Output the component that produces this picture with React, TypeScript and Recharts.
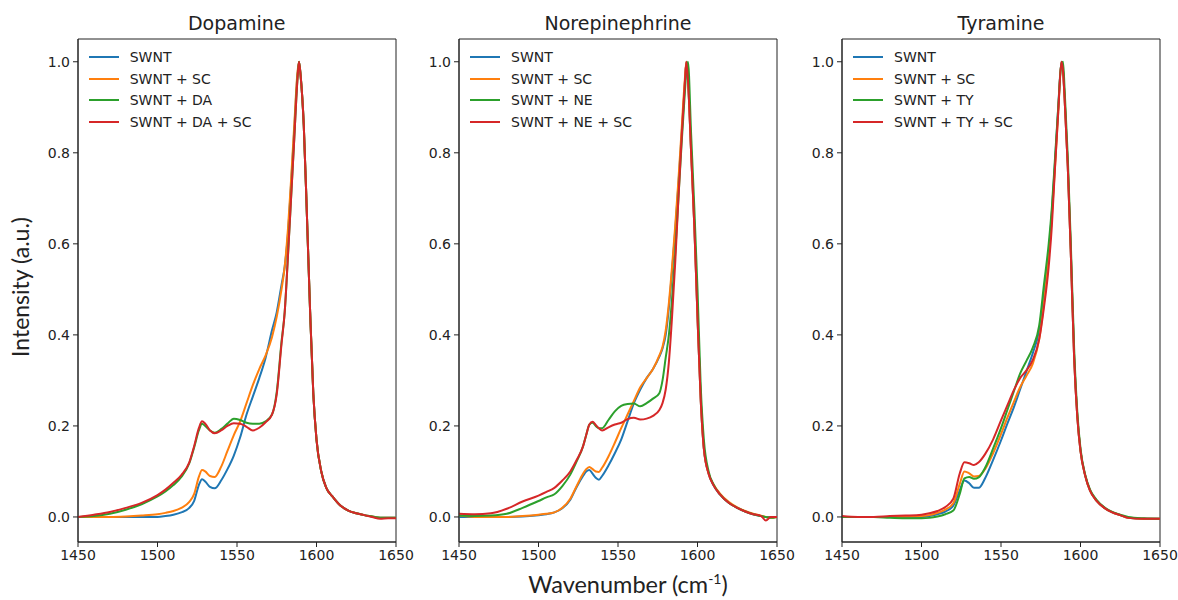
import { LineChart, Line, XAxis, YAxis, ReferenceArea, Legend } from "recharts";

const COLORS = ["#1f77b4", "#ff7f0e", "#2ca02c", "#d62728"];
const xTicks = [1450, 1500, 1550, 1600, 1650];
const yTicks = [0, 0.2, 0.4, 0.6, 0.8, 1.0];

// Dopamine
const wnDA = [1450, 1460, 1470, 1480, 1490, 1500, 1505, 1510, 1515, 1520, 1523, 1526, 1528, 1530, 1533, 1536, 1540, 1544, 1548, 1552, 1556, 1560, 1564, 1568, 1572, 1575, 1578, 1580, 1582, 1584, 1586, 1588, 1589, 1590, 1592, 1594, 1596, 1598, 1600, 1603, 1606, 1610, 1615, 1620, 1625, 1630, 1635, 1640, 1645, 1650];
const daSwnt = [0, 0, 0, 0, 0, 0, 0.002, 0.005, 0.01, 0.02, 0.035, 0.07, 0.083, 0.078, 0.066, 0.063, 0.08, 0.105, 0.135, 0.175, 0.225, 0.265, 0.305, 0.35, 0.41, 0.45, 0.51, 0.55, 0.62, 0.73, 0.85, 0.97, 1.0, 0.97, 0.86, 0.66, 0.45, 0.27, 0.17, 0.1, 0.065, 0.045, 0.025, 0.014, 0.008, 0.004, 0.001, -0.002, -0.002, -0.002];
const daSc = [0, 0, 0, 0.001, 0.003, 0.006, 0.009, 0.013, 0.02, 0.033, 0.05, 0.088, 0.103, 0.1, 0.09, 0.088, 0.11, 0.145, 0.18, 0.21, 0.25, 0.29, 0.325, 0.355, 0.395, 0.44, 0.5, 0.55, 0.63, 0.74, 0.86, 0.975, 1.0, 0.97, 0.86, 0.66, 0.45, 0.27, 0.17, 0.1, 0.065, 0.045, 0.025, 0.014, 0.008, 0.004, 0.001, -0.002, -0.002, -0.002];
const daDa = [0, 0.002, 0.007, 0.016, 0.028, 0.045, 0.056, 0.07, 0.088, 0.118, 0.152, 0.19, 0.205, 0.2, 0.19, 0.185, 0.193, 0.205, 0.216, 0.213, 0.207, 0.205, 0.205, 0.21, 0.225, 0.275, 0.385, 0.45, 0.57, 0.7, 0.83, 0.96, 1.0, 0.97, 0.86, 0.66, 0.45, 0.27, 0.17, 0.1, 0.065, 0.045, 0.025, 0.014, 0.008, 0.004, 0.001, -0.002, -0.002, -0.002];
const daDaSc = [0, 0.005, 0.011, 0.02, 0.031, 0.048, 0.06, 0.075, 0.092, 0.12, 0.155, 0.195, 0.21, 0.205, 0.19, 0.184, 0.19, 0.2, 0.206, 0.205, 0.198, 0.19, 0.196, 0.208, 0.225, 0.27, 0.38, 0.45, 0.57, 0.7, 0.83, 0.96, 1.0, 0.97, 0.86, 0.66, 0.45, 0.27, 0.17, 0.1, 0.065, 0.045, 0.025, 0.014, 0.008, 0.004, 0.0, -0.004, -0.003, -0.003];

// Norepinephrine
const wnNE = [1450, 1460, 1470, 1480, 1490, 1500, 1505, 1510, 1515, 1520, 1524, 1528, 1530, 1532, 1534, 1536, 1538, 1540, 1544, 1548, 1552, 1556, 1560, 1564, 1568, 1572, 1576, 1578, 1580, 1582, 1584, 1586, 1588, 1590, 1592, 1593, 1594, 1596, 1598, 1600, 1602, 1604, 1607, 1610, 1614, 1620, 1625, 1630, 1635, 1640, 1643, 1646, 1650];
const neSwnt = [0, 0, 0, 0, 0.001, 0.004, 0.006, 0.01, 0.019, 0.038, 0.066, 0.09, 0.1, 0.103, 0.095, 0.086, 0.082, 0.09, 0.113, 0.14, 0.17, 0.21, 0.25, 0.28, 0.305, 0.325, 0.352, 0.37, 0.4, 0.46, 0.54, 0.63, 0.73, 0.84, 0.95, 1.0, 0.96, 0.8, 0.64, 0.44, 0.26, 0.15, 0.095, 0.07, 0.05, 0.03, 0.02, 0.012, 0.006, 0.002, 0, 0, 0];
const neSc = [0.003, 0, 0, 0, 0.002, 0.005, 0.007, 0.01, 0.02, 0.04, 0.068, 0.095, 0.105, 0.11, 0.105, 0.1, 0.099, 0.108, 0.133, 0.163, 0.195, 0.225, 0.255, 0.285, 0.305, 0.325, 0.355, 0.374, 0.41, 0.47, 0.55, 0.64, 0.74, 0.85, 0.96, 1.0, 0.96, 0.8, 0.64, 0.44, 0.26, 0.15, 0.095, 0.072, 0.052, 0.032, 0.021, 0.013, 0.007, 0.003, 0, -0.002, 0];
const neNe = [0.003, 0.002, 0.003, 0.007, 0.02, 0.035, 0.043, 0.05, 0.068, 0.093, 0.122, 0.155, 0.18, 0.203, 0.207, 0.2, 0.195, 0.195, 0.213, 0.232, 0.244, 0.248, 0.249, 0.243, 0.25, 0.26, 0.272, 0.3, 0.35, 0.4, 0.48, 0.58, 0.7, 0.82, 0.93, 0.98, 1.0, 0.84, 0.68, 0.5, 0.29, 0.17, 0.1, 0.072, 0.05, 0.03, 0.02, 0.012, 0.006, 0.002, 0, -0.002, 0];
const neNeSc = [0.007, 0.006, 0.008, 0.018, 0.034, 0.047, 0.055, 0.064, 0.08, 0.1, 0.125, 0.155, 0.18, 0.203, 0.209, 0.202, 0.195, 0.19, 0.197, 0.203, 0.207, 0.215, 0.218, 0.214, 0.216, 0.222, 0.235, 0.25, 0.28, 0.34, 0.44, 0.56, 0.7, 0.83, 0.95, 1.0, 0.96, 0.8, 0.64, 0.44, 0.26, 0.15, 0.095, 0.07, 0.05, 0.03, 0.02, 0.012, 0.006, 0.002, -0.008, 0, 0];

// Tyramine
const wnTY = [1450, 1460, 1470, 1480, 1490, 1500, 1505, 1510, 1515, 1520, 1524, 1527, 1530, 1533, 1536, 1540, 1545, 1550, 1554, 1558, 1562, 1566, 1570, 1574, 1577, 1580, 1582, 1584, 1586, 1588, 1589, 1590, 1592, 1594, 1596, 1598, 1600, 1603, 1606, 1610, 1615, 1620, 1625, 1630, 1640, 1650];
const tySwnt = [0, 0, 0, 0, 0, 0, 0.002, 0.006, 0.012, 0.025, 0.058, 0.08, 0.074, 0.064, 0.064, 0.085, 0.125, 0.168, 0.205, 0.24, 0.28, 0.32, 0.36, 0.41, 0.49, 0.58, 0.67, 0.78, 0.9, 1.0, 0.98, 0.92, 0.77, 0.57, 0.35, 0.22, 0.145, 0.09, 0.058, 0.036, 0.02, 0.01, 0.004, -0.002, -0.004, -0.004];
const tySc = [0, 0, 0, 0, 0.001, 0.002, 0.004, 0.009, 0.016, 0.03, 0.072, 0.1, 0.096, 0.089, 0.09, 0.105, 0.14, 0.182, 0.218, 0.252, 0.285, 0.31, 0.337, 0.39, 0.47, 0.57, 0.66, 0.77, 0.89, 1.0, 0.98, 0.92, 0.77, 0.57, 0.35, 0.22, 0.145, 0.09, 0.058, 0.036, 0.02, 0.01, 0.004, -0.002, -0.004, -0.004];
const tyTy = [0, 0, 0, -0.002, -0.003, -0.003, -0.002, 0.001, 0.006, 0.014, 0.05, 0.085, 0.088, 0.084, 0.087, 0.108, 0.15, 0.195, 0.235, 0.275, 0.315, 0.343, 0.372, 0.42, 0.51, 0.6, 0.68, 0.79, 0.9, 0.995, 1.0, 0.94, 0.79, 0.59, 0.37, 0.23, 0.15, 0.092, 0.06, 0.038, 0.021, 0.011, 0.005, 0, -0.003, -0.004];
const tyTySc = [0.002, 0, 0, 0.002, 0.003, 0.005, 0.008, 0.013, 0.022, 0.04, 0.095, 0.12, 0.118, 0.114, 0.12, 0.138, 0.17, 0.212, 0.245, 0.278, 0.305, 0.322, 0.345, 0.39, 0.46, 0.55, 0.64, 0.77, 0.89, 1.0, 0.98, 0.92, 0.77, 0.57, 0.35, 0.22, 0.145, 0.09, 0.058, 0.036, 0.02, 0.01, 0.004, -0.002, -0.004, -0.004];

const daNames = ["SWNT", "SWNT + SC", "SWNT + DA", "SWNT + DA + SC"];
const neNames = ["SWNT", "SWNT + SC", "SWNT + NE", "SWNT + NE + SC"];
const tyNames = ["SWNT", "SWNT + SC", "SWNT + TY", "SWNT + TY + SC"];

const Y_AXIS_W = 45;
const PLOT_W = 318;
const RIGHT_PAD = 25;
const TOP = 39;
const PLOT_H = 503;
const X_AXIS_H = 30;
const TEXT = "#222";
const tickStyle = { fontFamily: "DejaVu Sans", fontSize: 14, fill: TEXT };

const makeLegend = (names: string[]) => (props: any) => {
  // keep the series order (recharts sorts legend items by name otherwise)
  const items = [...(props.payload || [])].sort(
    (a: any, b: any) => names.indexOf(a.value) - names.indexOf(b.value)
  );
  return (
    <div>
      {items.map((entry: any) => (
        <div key={entry.value} style={{ display: "flex", alignItems: "center", height: 21.5 }}>
          <svg width={30} height={4}>
            <line x1={0} y1={2} x2={30} y2={2} stroke={entry.color} strokeWidth={2} />
          </svg>
          <span style={{ marginLeft: 11, fontFamily: "DejaVu Sans", fontSize: 14, color: TEXT, whiteSpace: "nowrap" }}>
            {entry.value}
          </span>
        </div>
      ))}
    </div>
  );
};

function Panel({ title, names, wn, series, left }: { title: string; names: string[]; wn: number[]; series: number[][]; left: number }) {
  const data = wn.map((w, i) => {
    const row: Record<string, number> = { w };
    series.forEach((s, k) => {
      row["s" + k] = s[i];
    });
    return row;
  });

  return (
    <div style={{ position: "absolute", left: left - Y_AXIS_W, top: 0 }}>
      <div
        style={{
          position: "absolute",
          left: Y_AXIS_W,
          width: PLOT_W,
          top: 14,
          textAlign: "center",
          fontFamily: "DejaVu Sans",
          fontSize: 19,
          lineHeight: 1,
          color: TEXT,
        }}
      >
        {title}
      </div>
      <LineChart
        width={Y_AXIS_W + PLOT_W + RIGHT_PAD}
        height={TOP + PLOT_H + X_AXIS_H}
        data={data}
        margin={{ top: TOP, right: RIGHT_PAD, bottom: 0, left: 0 }}
      >
        <XAxis
          type="number"
          dataKey="w"
          domain={[1450, 1650]}
          ticks={xTicks}
          interval={0}
          allowDataOverflow
          height={X_AXIS_H}
          tickSize={5}
          tickMargin={3}
          tick={tickStyle}
          stroke={TEXT}
        />
        <YAxis
          type="number"
          domain={[-0.055, 1.05]}
          ticks={yTicks}
          interval={0}
          allowDataOverflow
          width={Y_AXIS_W}
          tickSize={5}
          tickMargin={3}
          tick={tickStyle}
          stroke={TEXT}
          tickFormatter={(v: number) => v.toFixed(1)}
        />
        <ReferenceArea x1={1450} x2={1650} y1={-0.055} y2={1.05} fill="none" stroke={TEXT} strokeWidth={1} ifOverflow="visible" />
        {series.map((_, k) => (
          <Line
            key={k}
            type="monotone"
            dataKey={"s" + k}
            name={names[k]}
            stroke={COLORS[k]}
            strokeWidth={2}
            dot={false}
            activeDot={false}
            isAnimationActive={false}
          />
        ))}
        <Legend
          layout="vertical"
          align="center"
          verticalAlign="middle"
          content={makeLegend(names)}
          wrapperStyle={{ left: Y_AXIS_W + 11, top: 46.5, width: "auto", height: "auto" }}
        />
      </LineChart>
    </div>
  );
}

export default function App() {
  return (
    <div style={{ position: "absolute", left: 0, top: 0, width: 1178, height: 600, background: "#fff", overflow: "hidden" }}>
      <Panel title="Dopamine" names={daNames} wn={wnDA} series={[daSwnt, daSc, daDa, daDaSc]} left={77.7} />
      <Panel title="Norepinephrine" names={neNames} wn={wnNE} series={[neSwnt, neSc, neNe, neNeSc]} left={459} />
      <Panel title="Tyramine" names={tyNames} wn={wnTY} series={[tySwnt, tySc, tyTy, tyTySc]} left={842} />
      <div
        style={{
          position: "absolute",
          left: 20,
          top: 287,
          transform: "translate(-50%, -50%) rotate(-90deg)",
          fontFamily: "Lato",
          fontSize: 23,
          color: TEXT,
          whiteSpace: "nowrap",
        }}
      >
        Intensity (a.u.)
      </div>
      <div
        style={{
          position: "absolute",
          left: 628,
          top: 573,
          transform: "translateX(-50%)",
          fontFamily: "Lato",
          fontSize: 23.5,
          lineHeight: 1,
          color: TEXT,
          whiteSpace: "nowrap",
        }}
      >
        Wavenumber (cm<sup style={{ fontSize: 14, verticalAlign: "super", lineHeight: 0 }}>-1</sup>)
      </div>
    </div>
  );
}
